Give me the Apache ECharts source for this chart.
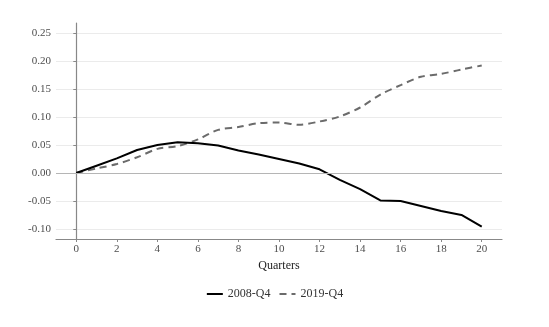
<!DOCTYPE html>
<html>
<head>
<meta charset="utf-8">
<script src="https://cdn.jsdelivr.net/npm/echarts@6/dist/echarts.min.js"></script>
<style>
  html, body { margin: 0; padding: 0; background: #fff; }
  #chart { width: 549px; height: 327px; }
</style>
</head>
<body>
<div id="chart"></div>
<script>
// quarters after the shock
const quarters = [0,1,2,3,4,5,6,7,8,9,10,11,12,13,14,15,16,17,18,19,20];
const gfc2008 = [0, 0.013, 0.026, 0.041, 0.050, 0.055, 0.053, 0.049, 0.040, 0.033, 0.025, 0.017, 0.0065, -0.0125, -0.029, -0.049, -0.050, -0.059, -0.068, -0.075, -0.096];
const covid2019 = [0, 0.008, 0.016, 0.028, 0.043, 0.048, 0.060, 0.077, 0.082, 0.089, 0.090, 0.086, 0.092, 0.101, 0.117, 0.140, 0.157, 0.172, 0.177, 0.185, 0.192];
const xTicks = [0,2,4,6,8,10,12,14,16,18,20];
const yTicks = [-0.10,-0.05,0,0.05,0.10,0.15,0.20,0.25];

const font = 'Liberation Serif';
const pair = arr => quarters.map((q, i) => [q, arr[i]]);

const chart = echarts.init(document.getElementById('chart'));
chart.setOption({
  animation: false,
  textStyle: { fontFamily: font },
  grid: { left: 56, right: 47, top: 23, bottom: 88 },
  xAxis: {
    type: 'value', min: -1, max: 21,
    name: 'Quarters', nameLocation: 'middle', nameGap: 16,
    nameTextStyle: { fontFamily: font, fontSize: 12, color: '#222' },
    axisLine: { onZero: false, lineStyle: { color: '#888', width: 1.2 } },
    axisTick: { show: true, length: 3, lineStyle: { color: '#888' }, customValues: xTicks },
    axisLabel: { fontFamily: font, fontSize: 11, color: '#4d4d4d', margin: 5, customValues: xTicks },
    splitLine: { show: false }
  },
  yAxis: {
    type: 'value', min: -0.118, max: 0.268,
    axisLine: { show: true, lineStyle: { color: '#888', width: 1.2 } },
    axisTick: { show: true, length: 3, lineStyle: { color: '#888' }, customValues: yTicks },
    axisLabel: { fontFamily: font, fontSize: 11, color: '#4d4d4d', margin: 5, customValues: yTicks,
      formatter: v => v.toFixed(2) },
    splitLine: { show: true, lineStyle: { color: '#ebebeb', width: 1 } }
  },
  legend: {
    bottom: 22, left: 'center',
    itemWidth: 16, itemHeight: 10, itemGap: 8,
    itemStyle: { opacity: 0 },
    textStyle: { fontFamily: font, fontSize: 12, color: '#333' },
    data: ['2008-Q4', '2019-Q4']
  },
  series: [
    {
      name: '2008-Q4', type: 'line', data: pair(gfc2008),
      symbol: 'none', lineStyle: { color: '#000', width: 2 }, itemStyle: { color: '#000' },
      z: 3,
      markLine: {
        silent: true, symbol: 'none', label: { show: false },
        lineStyle: { color: '#b5b5b5', width: 1, type: 'solid' },
        data: [{ yAxis: 0 }]
      }
    },
    {
      name: '2019-Q4', type: 'line', data: pair(covid2019),
      symbol: 'none', smooth: 0.3,
      lineStyle: { color: '#6b6b6b', width: 2, type: [7, 5] }, itemStyle: { color: '#6b6b6b' },
      z: 2
    }
  ]
});
</script>
</body>
</html>
